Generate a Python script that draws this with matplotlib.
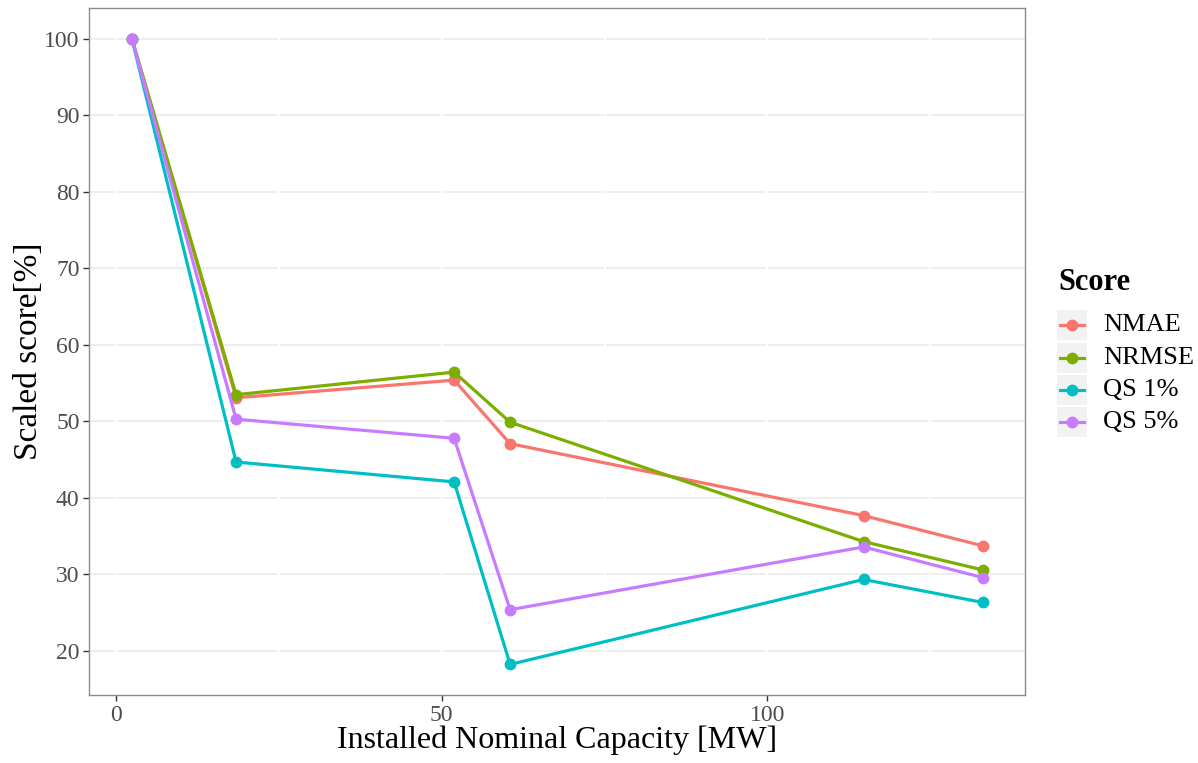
import matplotlib.pyplot as plt
from matplotlib.lines import Line2D
from matplotlib.patches import Rectangle

# installed capacity of each site [MW]
capacity = [2.4, 18.4, 51.9, 60.5, 114.8, 133.1]

# scaled scores [%]
nmae = [100, 53.1, 55.4, 47.1, 37.7, 33.75]
nrmse = [100, 53.5, 56.45, 49.9, 34.3, 30.6]
qs1 = [100, 44.7, 42.1, 18.25, 29.35, 26.35]
qs5 = [100, 50.3, 47.8, 25.4, 33.6, 29.6]

labels = ['NMAE', 'NRMSE', 'QS 1%', 'QS 5%']
colors = ['#F8766D', '#7CAE00', '#00BFC4', '#C77CFF']
series = [nmae, nrmse, qs1, qs5]

plt.rcParams['font.family'] = ['Liberation Serif', 'DejaVu Serif']

fig = plt.figure(figsize=(11.98, 7.63), dpi=100)
ax = fig.add_axes([89.3 / 1198, 1 - 695 / 763, (1025 - 89.3) / 1198, (695 - 8.3) / 763])

for vals, col in zip(series, colors):
    ax.plot(capacity, vals, '-o', color=col, lw=2.3, ms=7.5, zorder=3)

ax.set_xlim(-4.15, 139.6)
ax.set_ylim(14.25, 104.0)
ax.set_xticks([0, 50, 100])
ax.set_yticks([20, 30, 40, 50, 60, 70, 80, 90, 100])

# grey horizontal grid, white vertical grid cutting through it
for y in [20, 30, 40, 50, 60, 70, 80, 90, 100]:
    ax.axhline(y, color='#EBEBEB', lw=1.2, zorder=1)
for x in [0, 25, 50, 75, 100, 125]:
    ax.axvline(x, color='white', lw=1.4, zorder=2)

for sp in ax.spines.values():
    sp.set_color('#8C8C8C')
    sp.set_linewidth(1.0)

ax.tick_params(axis='both', colors='#333333', labelcolor='#4D4D4D',
               labelsize=17, length=4, width=1.0, direction='out', pad=3)
ax.set_xlabel('Installed Nominal Capacity [MW]', fontsize=23, labelpad=0)
ax.set_ylabel('Scaled score[%]', fontsize=24, labelpad=0)

# legend drawn by hand to get the grey key boxes
fig.text(1058 / 1198, 1 - 283 / 763, 'Score', fontsize=22, fontweight='bold',
         va='center', ha='left')
key_y = [325, 358, 390, 422]
for lab, col, yk in zip(labels, colors, key_y):
    fig.patches.append(Rectangle((1057 / 1198, 1 - (yk + 15) / 763), 30 / 1198, 30 / 763,
                                 transform=fig.transFigure, facecolor='#F2F2F2',
                                 edgecolor='none'))
    fig.lines.append(Line2D([1060 / 1198, 1084 / 1198], [1 - yk / 763, 1 - yk / 763],
                            transform=fig.transFigure, color=col, lw=2.3, zorder=3))
    fig.lines.append(Line2D([1072 / 1198], [1 - yk / 763], transform=fig.transFigure,
                            color=col, marker='o', ms=7.5, zorder=3))
    fig.text(1103 / 1198, 1 - yk / 763, lab, fontsize=19, va='center', ha='left')

fig.savefig('out.png', dpi=100)
